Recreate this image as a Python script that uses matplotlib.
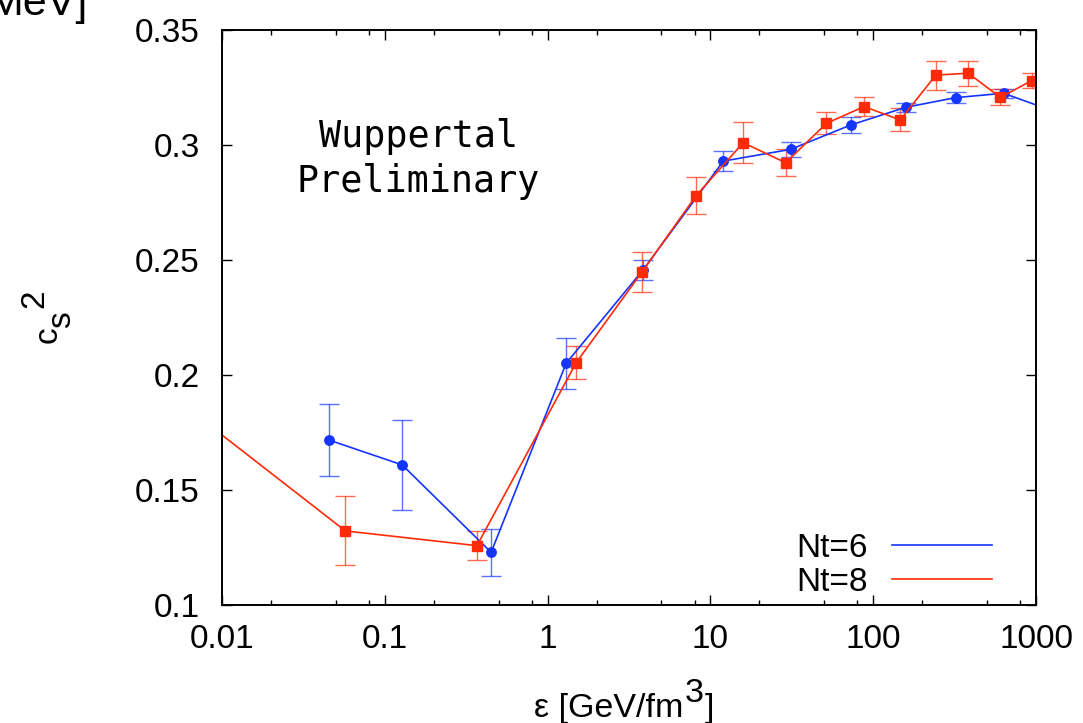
import matplotlib
matplotlib.use("Agg")
import matplotlib.pyplot as plt
from matplotlib.ticker import LogLocator, FuncFormatter, NullFormatter
from matplotlib.lines import Line2D

# Nt=6 (blue) -- last point lies beyond the x range, line runs off the frame
eps_nt6 = [0.0455, 0.128, 0.45, 1.30, 3.86, 12.0, 31.1, 72.8, 158.6, 322, 632, 1400]
cs2_nt6 = [0.1717, 0.1609, 0.1229, 0.2051, 0.2457, 0.2930, 0.2981, 0.3087, 0.3164, 0.3206, 0.3225, 0.3137]
err_nt6 = [0.0155, 0.0197, 0.0102, 0.0112, 0.0045, 0.0044, 0.0031, 0.0036, 0.0020, 0.0024, 0.0020, 0.0020]

# Nt=8 (red) -- first point lies left of the x range
eps_nt8 = [0.006, 0.0573, 0.368, 1.50, 3.81, 8.18, 15.9, 29.0, 51.6, 87.9, 146.6, 242.6, 383.7, 604, 942]
cs2_nt8 = [0.1861, 0.1322, 0.1258, 0.2054, 0.2449, 0.2780, 0.3010, 0.2923, 0.3094, 0.3167, 0.3109, 0.3304, 0.3312, 0.3207, 0.3280]
err_nt8 = [0.0150, 0.0150, 0.0062, 0.0073, 0.0087, 0.0080, 0.0090, 0.0058, 0.0048, 0.0043, 0.0050, 0.0063, 0.0055, 0.0035, 0.0031]

x_ticks = [0.01, 0.1, 1, 10, 100, 1000]
y_ticks = [0.1, 0.15, 0.2, 0.25, 0.3, 0.35]

blue = "#1434ff"
red = "#ff2a08"
W, H = 1083, 723

plt.rcParams["font.family"] = ["Liberation Sans", "DejaVu Sans"]

fig = plt.figure(figsize=(W / 100, H / 100), dpi=100)
ax = fig.add_axes([222 / W, 1 - 605 / H, (1036 - 222) / W, (605 - 30) / H])

ax.errorbar(eps_nt6, cs2_nt6, yerr=err_nt6, color=blue, lw=1.2, marker="o", ms=6.8,
            ecolor=(0.08, 0.2, 1.0, 0.7), elinewidth=1.0, capsize=7, capthick=1.0)
ax.errorbar(eps_nt8, cs2_nt8, yerr=err_nt8, color=red, lw=1.2, marker="s", ms=7.2,
            ecolor=(1.0, 0.17, 0.03, 0.7), elinewidth=1.0, capsize=7, capthick=1.0)

ax.set_xscale("log")
ax.set_xlim(0.01, 1000)
ax.set_ylim(0.1, 0.35)
ax.set_xticks(x_ticks)
ax.set_yticks(y_ticks)
ax.xaxis.set_minor_locator(LogLocator(base=10, subs=[2, 5, 8]))
ax.xaxis.set_minor_formatter(NullFormatter())
fmt = FuncFormatter(lambda v, p: "%g" % v)
ax.xaxis.set_major_formatter(fmt)
ax.yaxis.set_major_formatter(fmt)

ax.tick_params(which="both", direction="in", top=True, right=True, width=1.0, labelsize=24)
ax.tick_params(which="major", length=7)
ax.tick_params(which="minor", length=3.5)
ax.tick_params(axis="x", pad=14)
ax.tick_params(axis="y", pad=16)
for s in ax.spines.values():
    s.set_linewidth(1.4)

# y label c_s^2, gnuplot style: sub- and superscript at full size
ylab = dict(fontsize=24, rotation=90, rotation_mode="anchor", ha="left", va="baseline")
fig.text(57 / W, 1 - 343 / H, "c", **ylab)
fig.text(70 / W, 1 - 328 / H, "s", **ylab)
fig.text(43 / W, 1 - 308 / H, "2", **ylab)

# x label with full-size superscript
xl = fig.text(534 / W, 6 / H, "ε [GeV/fm", fontsize=24.5, ha="left", va="baseline")
t3 = ax.annotate("3", xy=(1, 0), xycoords=xl, xytext=(1, 11), textcoords="offset points",
                 fontsize=24.5, ha="left", va="bottom", annotation_clip=False)
ax.annotate("]", xy=(1, 0), xycoords=t3, xytext=(1, -11), textcoords="offset points",
            fontsize=24.5, ha="left", va="bottom", annotation_clip=False)

# stray label from the neighbouring panel, cut by the crop
fig.text(88 / W, 1 - 15 / H, "MeV]", fontsize=31, ha="right", va="baseline")

ax.text(0.241, 0.7965, "Wuppertal", transform=ax.transAxes, ha="center", va="baseline",
        fontsize=26.5, family="DejaVu Sans Mono")
ax.text(0.241, 0.7183, "Preliminary", transform=ax.transAxes, ha="center", va="baseline",
        fontsize=26.5, family="DejaVu Sans Mono")

handles = [Line2D([], [], color=blue, lw=1.2), Line2D([], [], color=red, lw=1.2)]
ax.legend(handles, ["Nt=6", "Nt=8"], loc="lower right", frameon=False, fontsize=24,
          markerfirst=False, handlelength=3.0, handletextpad=0.72, labelspacing=0.1,
          borderpad=0, borderaxespad=0, bbox_to_anchor=((992 - 222) / 814, 0.012))

fig.savefig("out.png", dpi=100)
